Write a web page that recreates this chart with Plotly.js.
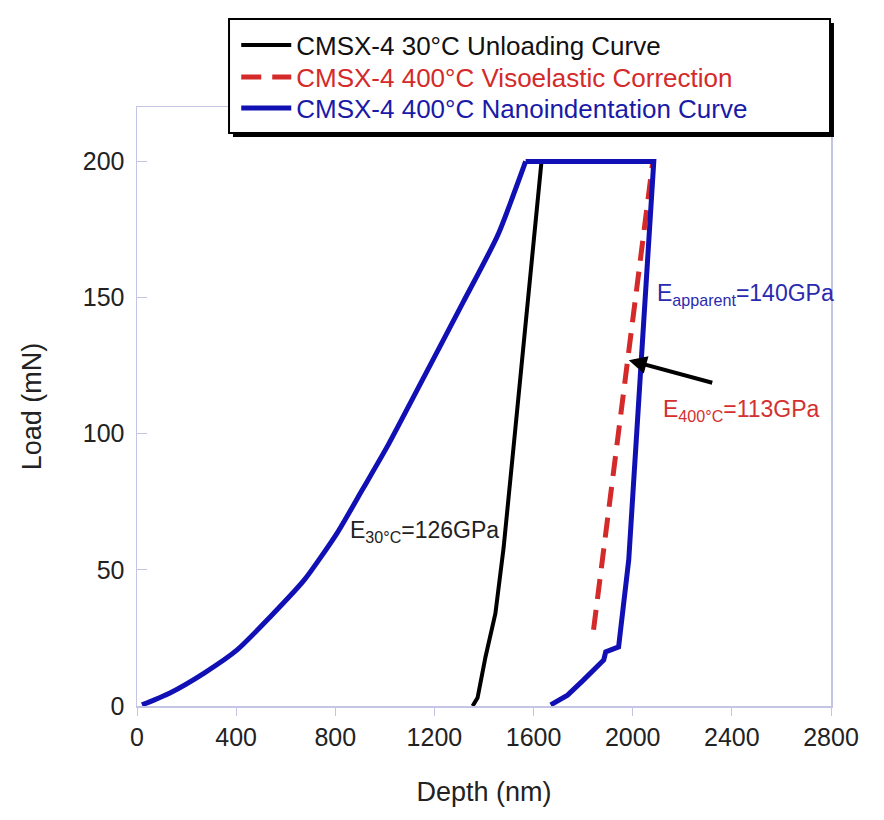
<!DOCTYPE html>
<html>
<head>
<meta charset="utf-8">
<script src="https://cdn.plot.ly/plotly-3.0.1.min.js"></script>
<style>html,body{margin:0;padding:0;background:#fff;}#chart{width:884px;height:820px;}</style>
</head>
<body>
<div id="chart"></div>
<script>
// CMSX-4 30°C unloading curve
const unload30Depth = [1354, 1374, 1406, 1446, 1479, 1507, 1519, 1632];
const unload30Load  = [0, 3, 18, 34, 58, 83, 94.9, 200];

// CMSX-4 400°C viscoelastic correction
const viscoDepth = [1842, 2081];
const viscoLoad  = [28, 200];

// CMSX-4 400°C nanoindentation curve: loading part
const nanoLoadingDepth = [20, 133, 271, 404, 537, 675, 808, 909, 1014, 1184, 1317, 1455, 1568];
const nanoLoadingLoad  = [0.4, 4.8, 12.1, 20.6, 32.7, 46.3, 63.6, 79.4, 96, 125.4, 148.5, 172.8, 200];
// hold and unloading part
const nanoUnloadDepth = [1568, 2085, 1984, 1943, 1891, 1883, 1802, 1737, 1669];
const nanoUnloadLoad  = [200, 200, 53.7, 21.7, 19.9, 16.9, 9.6, 4, 0.4];

const seriesNames = ['CMSX-4 30°C Unloading Curve',
                     'CMSX-4 400°C Visoelastic Correction',
                     'CMSX-4 400°C Nanoindentation Curve'];
const xTicks = [0, 400, 800, 1200, 1600, 2000, 2400, 2800];
const yTicks = [0, 50, 100, 150, 200];

const BLUE = '#1010b4', RED = '#d42a2a', BLACK = '#000000';
const FONT = 'Liberation Sans, Arial, Helvetica, sans-serif';

const traces = [
  {x: unload30Depth, y: unload30Load, mode: 'lines', type: 'scatter',
   name: '<span style="color:#111">' + seriesNames[0] + '</span>',
   legend: 'legend', line: {color: BLACK, width: 4}},
  {x: viscoDepth, y: viscoLoad, mode: 'lines', type: 'scatter',
   name: '<span style="color:#d42a2a">' + seriesNames[1] + '</span>',
   legend: 'legend2', line: {color: RED, width: 5, dash: '20px,11px'}},
  {x: nanoLoadingDepth, y: nanoLoadingLoad, mode: 'lines', type: 'scatter',
   name: '<span style="color:#1a1aa8">' + seriesNames[2] + '</span>',
   legend: 'legend3', legendgroup: 'nano',
   line: {color: BLUE, width: 5, shape: 'spline', smoothing: 0.6}},
  {x: nanoUnloadDepth, y: nanoUnloadLoad, mode: 'lines', type: 'scatter',
   name: seriesNames[2], showlegend: false, legendgroup: 'nano',
   line: {color: BLUE, width: 5}}
];

const axisCol = '#c4c4e4';
function leg(y) {
  return {x: 0.143, y: y, xanchor: 'left', yanchor: 'middle',
          bgcolor: 'rgba(0,0,0,0)', borderwidth: 0,
          font: {family: FONT, size: 26}, itemwidth: 50};
}
const layout = {
  width: 884, height: 820,
  margin: {l: 137, r: 53, t: 107, b: 114, autoexpand: false},
  paper_bgcolor: '#fff', plot_bgcolor: '#fff',
  font: {family: FONT, color: '#222', size: 25},
  showlegend: true,
  legend: leg(1.1035),
  legend2: leg(1.0501),
  legend3: leg(0.9983),
  xaxis: {range: [0, 2800], tickvals: xTicks, ticktext: xTicks.map(String),
          showgrid: false, zeroline: false, showline: true, mirror: true,
          linecolor: axisCol, linewidth: 1.5, ticks: 'outside', ticklen: 8,
          tickcolor: axisCol, tickfont: {size: 25, color: '#222'},
          title: {text: 'Depth (nm)', font: {size: 27, color: '#222'}, standoff: 32}},
  yaxis: {range: [0, 220], tickvals: yTicks, ticktext: yTicks.map(String),
          showgrid: false, zeroline: false, showline: true, mirror: true,
          linecolor: axisCol, linewidth: 1.5, ticks: 'inside', ticklen: 10,
          tickcolor: axisCol, tickfont: {size: 25, color: '#222'},
          ticklabelstandoff: 6,
          title: {text: 'Load (mN)', font: {size: 27, color: '#222'}, standoff: 33}},
  shapes: [
    {type: 'rect', xref: 'paper', yref: 'paper', layer: 'above',
     x0: 0.1383, x1: 1.0043, y0: 0.9499, y1: 1.1402,
     fillcolor: '#000', line: {width: 0}},
    {type: 'rect', xref: 'paper', yref: 'paper', layer: 'above',
     x0: 0.1326, x1: 0.9986, y0: 0.9566, y1: 1.1469,
     fillcolor: '#fff', line: {color: '#000', width: 2}}
  ],
  annotations: [
    {x: 852, y: 64, xref: 'x', yref: 'y', xanchor: 'left', yanchor: 'middle',
     text: 'E<sub>30°C</sub>=126GPa', showarrow: false,
     font: {size: 23, color: '#222'}},
    {x: 2088, y: 151, xref: 'x', yref: 'y', xanchor: 'left', yanchor: 'middle',
     text: 'E<sub>apparent</sub>=140GPa', showarrow: false,
     font: {size: 23, color: '#2a2ab0'}},
    {x: 2114, y: 108.5, xref: 'x', yref: 'y', xanchor: 'left', yanchor: 'middle',
     text: 'E<sub>400°C</sub>=113GPa', showarrow: false,
     font: {size: 23, color: '#d43030'}},
    {x: 1984, y: 127, xref: 'x', yref: 'y', text: '', showarrow: true,
     ax: 85, ay: 23, arrowhead: 2, arrowsize: 0.9, arrowwidth: 4, arrowcolor: '#000'}
  ]
};

Plotly.newPlot('chart', traces, layout, {displayModeBar: false, staticPlot: true});
</script>
</body>
</html>
